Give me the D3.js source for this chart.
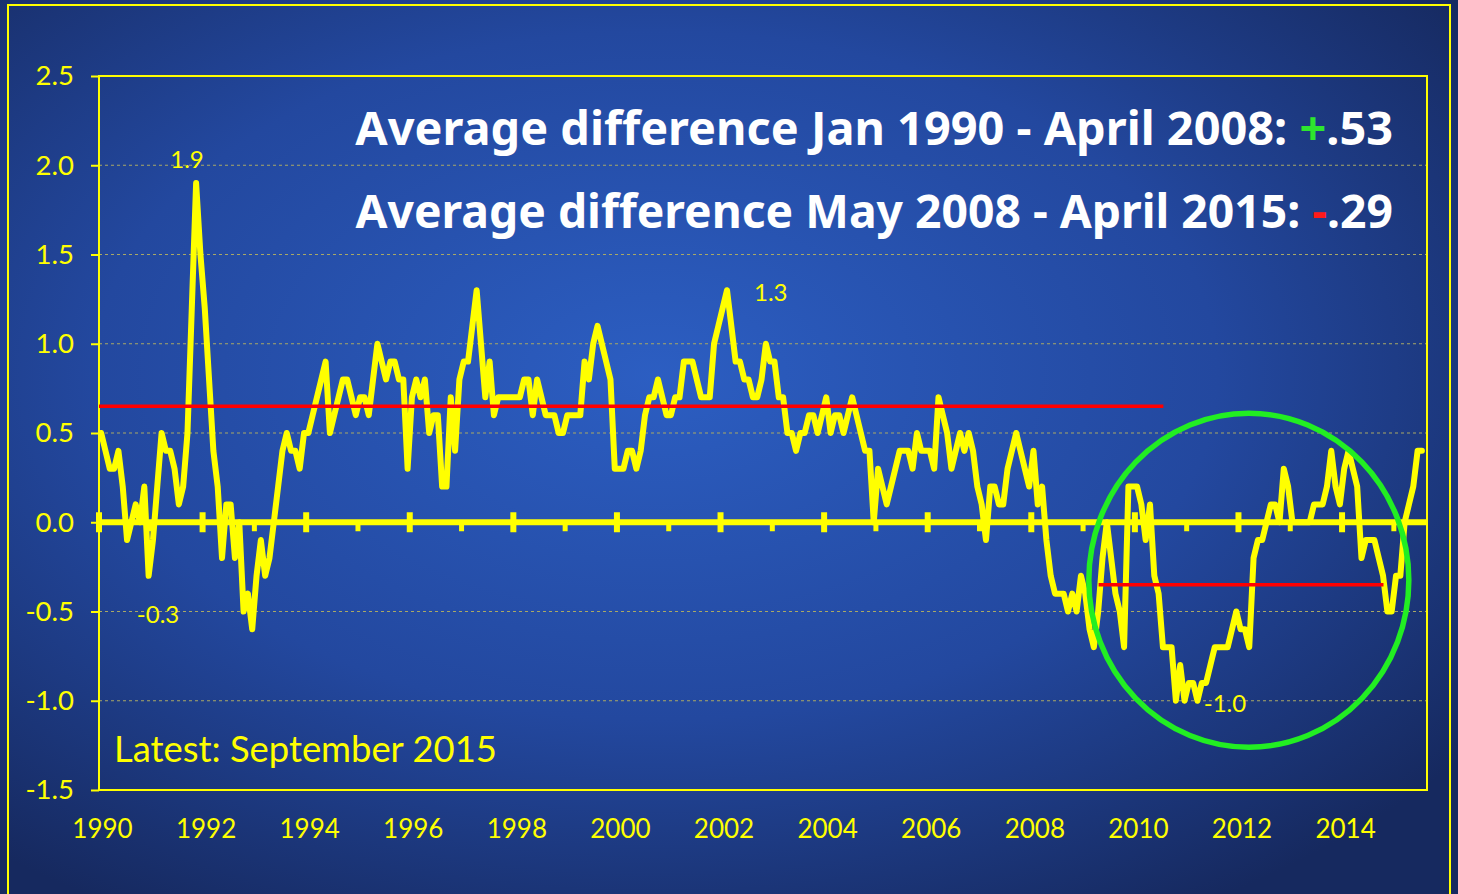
<!DOCTYPE html>
<html><head><meta charset="utf-8">
<script src="https://cdn.jsdelivr.net/npm/d3@7"></script>
<style>html,body{margin:0;padding:0;background:#1f3b85;overflow:hidden}</style>
</head><body><svg id="chart" width="1458" height="894"></svg>
<script>
// ---------- DATA ----------
const startYear = 1990;            // first monthly observation: Jan 1990
const monthlyDiff = [
  0.5,0.4,0.3,0.3,0.4,0.2,-0.1,0.0,0.1,0.0,0.2,-0.3,        // 1990
  -0.1,0.2,0.5,0.4,0.4,0.3,0.1,0.2,0.5,1.2,1.9,1.5,         // 1991
  1.2,0.8,0.4,0.2,-0.2,0.1,0.1,-0.2,0.0,-0.5,-0.4,-0.6,     // 1992
  -0.3,-0.1,-0.3,-0.2,0.0,0.2,0.4,0.5,0.4,0.4,0.3,0.5,      // 1993
  0.5,0.6,0.7,0.8,0.9,0.5,0.6,0.7,0.8,0.8,0.7,0.6,          // 1994
  0.7,0.7,0.6,0.8,1.0,0.9,0.8,0.9,0.9,0.8,0.8,0.3,          // 1995
  0.7,0.8,0.7,0.8,0.5,0.6,0.6,0.2,0.2,0.7,0.4,0.8,          // 1996
  0.9,0.9,1.1,1.3,1.0,0.7,0.9,0.6,0.7,0.7,0.7,0.7,          // 1997
  0.7,0.7,0.8,0.8,0.6,0.8,0.7,0.6,0.6,0.6,0.5,0.5,          // 1998
  0.6,0.6,0.6,0.6,0.9,0.8,1.0,1.1,1.0,0.9,0.8,0.3,          // 1999
  0.3,0.3,0.4,0.4,0.3,0.4,0.6,0.7,0.7,0.8,0.7,0.6,          // 2000
  0.6,0.7,0.7,0.9,0.9,0.9,0.8,0.7,0.7,0.7,1.0,1.1,          // 2001
  1.2,1.3,1.1,0.9,0.9,0.8,0.8,0.7,0.7,0.8,1.0,0.9,          // 2002
  0.9,0.7,0.7,0.5,0.5,0.4,0.5,0.5,0.6,0.6,0.5,0.6,          // 2003
  0.7,0.5,0.6,0.6,0.5,0.6,0.7,0.6,0.5,0.4,0.4,0.0,          // 2004
  0.3,0.2,0.1,0.2,0.3,0.4,0.4,0.4,0.3,0.5,0.4,0.4,          // 2005
  0.4,0.3,0.7,0.6,0.5,0.3,0.4,0.5,0.4,0.5,0.4,0.2,          // 2006
  0.1,-0.1,0.2,0.2,0.1,0.1,0.3,0.4,0.5,0.4,0.3,0.2,         // 2007
  0.4,0.1,0.2,-0.1,-0.3,-0.4,-0.4,-0.4,-0.5,-0.4,-0.5,-0.3, // 2008
  -0.4,-0.6,-0.7,-0.5,-0.2,0.0,-0.2,-0.4,-0.5,-0.7,0.2,0.2, // 2009
  0.2,0.1,-0.1,0.1,-0.3,-0.4,-0.7,-0.7,-0.7,-1.0,-0.8,-1.0, // 2010
  -0.9,-0.9,-1.0,-0.9,-0.9,-0.8,-0.7,-0.7,-0.7,-0.7,-0.6,-0.5, // 2011
  -0.6,-0.6,-0.7,-0.2,-0.1,-0.1,0.0,0.1,0.1,0.0,0.3,0.2,    // 2012
  0.0,0.0,0.0,0.0,0.0,0.1,0.1,0.1,0.2,0.4,0.2,0.1,          // 2013
  0.3,0.4,0.3,0.2,-0.2,-0.1,-0.1,-0.1,-0.2,-0.3,-0.5,-0.5,  // 2014
  -0.3,-0.3,0.0,0.1,0.2,0.4,0.4                              // 2015
];
const yTicks = [2.5, 2.0, 1.5, 1.0, 0.5, 0.0, -0.5, -1.0, -1.5];
const gridValues = [2.0, 1.5, 1.0, 0.5, -0.5, -1.0];
const xLabelYears = [1990,1992,1994,1996,1998,2000,2002,2004,2006,2008,2010,2012,2014];
const minorTickYears = [1991,1993,1995,1997,1999,2001,2003,2005,2007,2009,2011,2013,2015];
const averageLines = [
  {from: 1990.0, to: 2010.55, value: 0.65},
  {from: 2009.3, to: 2014.8, value: -0.35}
];
const annotations = [
  {text: "1.9",  year: 1991.70, value: 2.04},
  {text: "1.3",  year: 2002.97, value: 1.29},
  {text: "-0.3", year: 1991.14, value: -0.51},
  {text: "-1.0", year: 2011.74, value: -1.01}
];
const highlight = {year: 2012.2, value: -0.325};
const titleLines = [
  {before: "Average difference Jan 1990 - April 2008: ", sign: "+", after: ".53", signColor: "#2ee62e"},
  {before: "Average difference May 2008 - April 2015: ", sign: "-", after: ".29", signColor: "#ff1a1a"}
];
const footnote = "Latest: September 2015";

// ---------- DRAW ----------
const W = 1458, H = 894;
const svg = d3.select("#chart");
const YEL = "#ffff00";

const defs = svg.append("defs");
const grad = defs.append("radialGradient").attr("id","bg")
  .attr("cx","45%").attr("cy","42%").attr("r","70%");
grad.append("stop").attr("offset","0%").attr("stop-color","#2c5ec2");
grad.append("stop").attr("offset","55%").attr("stop-color","#23489f");
grad.append("stop").attr("offset","100%").attr("stop-color","#16295f");
svg.append("rect").attr("width",W).attr("height",H).attr("fill","url(#bg)");

// outer frame
svg.append("path").attr("d","M8,900 V5 H1450 V900")
  .attr("fill","none").attr("stroke",YEL).attr("stroke-width",2);

const x = d3.scaleLinear().domain([1990, 2015.64]).range([99, 1427]);
const y = d3.scaleLinear().domain([-1.5, 2.5]).range([790, 76]);

// grid
svg.append("g").selectAll("line").data(gridValues).join("line")
  .attr("x1", x.range()[0]).attr("x2", x.range()[1])
  .attr("y1", d => y(d)).attr("y2", d => y(d))
  .attr("stroke", "#a9a865").attr("stroke-width", 1.2).attr("stroke-dasharray", "3,3");

// plot frame
svg.append("rect").attr("x", x.range()[0]).attr("y", y(2.5))
  .attr("width", x.range()[1]-x.range()[0]).attr("height", y(-1.5)-y(2.5))
  .attr("fill","none").attr("stroke",YEL).attr("stroke-width",2);

// y axis ticks + labels
const yAxis = d3.axisLeft(y).tickValues(yTicks).tickSize(8).tickPadding(17)
  .tickFormat(d => d.toFixed(1));
const gy = svg.append("g").attr("transform", `translate(${x.range()[0]},0)`).call(yAxis);
gy.select(".domain").remove();
gy.selectAll("line").attr("stroke", YEL).attr("stroke-width", 2);
gy.selectAll("text").attr("fill", YEL).attr("font-family","Lato, 'Open Sans', sans-serif")
  .attr("font-size", 27.5);

// x labels
const xAxis = d3.axisBottom(x).tickValues(xLabelYears).tickSize(0).tickPadding(30)
  .tickFormat(d3.format("d"));
const gx = svg.append("g").attr("transform", `translate(3,${y(-1.5)})`).call(xAxis);
gx.select(".domain").remove();
gx.selectAll("text").attr("fill", YEL).attr("font-family","Lato, 'Open Sans', sans-serif")
  .attr("font-size", 26);

// data line
const line = d3.line()
  .x((d,i) => x(startYear + (i + 0.5) / 12))
  .y(d => y(d));
svg.append("path").datum(monthlyDiff).attr("d", line)
  .attr("fill","none").attr("stroke",YEL).attr("stroke-width",6)
  .attr("stroke-linejoin","round").attr("stroke-linecap","round");

// zero line with ticks
svg.append("line").attr("x1", x.range()[0]).attr("x2", x.range()[1])
  .attr("y1", y(0)).attr("y2", y(0)).attr("stroke", YEL).attr("stroke-width", 6);
svg.append("g").selectAll("line").data(xLabelYears).join("line")
  .attr("x1", d => x(d)).attr("x2", d => x(d))
  .attr("y1", y(0) - 10).attr("y2", y(0) + 10)
  .attr("stroke", YEL).attr("stroke-width", 6);
svg.append("g").selectAll("line").data(minorTickYears).join("line")
  .attr("x1", d => x(d)).attr("x2", d => x(d))
  .attr("y1", y(0)).attr("y2", y(0) + 9)
  .attr("stroke", YEL).attr("stroke-width", 5);

// average lines
svg.append("g").selectAll("line").data(averageLines).join("line")
  .attr("x1", d => x(d.from)).attr("x2", d => x(d.to))
  .attr("y1", d => y(d.value)).attr("y2", d => y(d.value))
  .attr("stroke", "#ff0000").attr("stroke-width", 3.5);

// highlight ellipse
svg.append("ellipse").attr("cx", x(highlight.year)).attr("cy", y(highlight.value))
  .attr("rx", 160).attr("ry", 167)
  .attr("fill","none").attr("stroke","#22ee22").attr("stroke-width",5.5);

// annotations
svg.append("g").selectAll("text").data(annotations).join("text")
  .attr("x", d => x(d.year)).attr("y", d => y(d.value))
  .attr("text-anchor","middle").attr("dominant-baseline","central")
  .attr("fill", YEL).attr("font-family","Lato, 'Open Sans', sans-serif").attr("font-size", 24)
  .text(d => d.text);

// title lines
const titleBaselines = [145, 228];
titleLines.forEach((t, i) => {
  const txt = svg.append("text").attr("x", 1393).attr("y", titleBaselines[i])
    .attr("text-anchor","end").attr("font-family","'Noto Sans', 'Open Sans', sans-serif")
    .attr("font-weight","bold").attr("font-size", 44).attr("fill","#ffffff");
  txt.append("tspan").text(t.before);
  txt.append("tspan").attr("fill", t.signColor).text(t.sign);
  txt.append("tspan").text(t.after);
  const w = txt.node().getComputedTextLength();
  txt.attr("font-size", 44 * 1038 / w);
});

// footnote
const fn = svg.append("text").attr("x", 114).attr("y", 762)
  .attr("fill", YEL).attr("font-family","Lato, 'Open Sans', sans-serif")
  .attr("font-size", 36).text(footnote);
const fw = fn.node().getComputedTextLength();
fn.attr("font-size", 36 * 383 / fw);
</script></body></html>
